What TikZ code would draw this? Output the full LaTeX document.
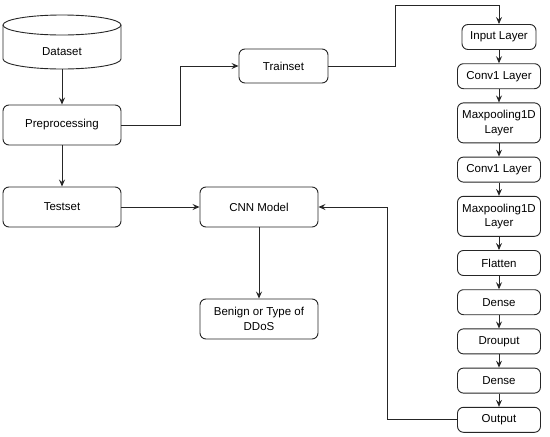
\documentclass[tikz,border=0pt]{standalone}
\usepackage{fontspec}
\setmainfont{Liberation Sans}
\usetikzlibrary{positioning,arrows.meta}
\tikzset{
  block/.style = {rectangle, rounded corners=6pt, draw=black!85, line width=0.9pt,
                  fill=white, minimum width=118pt, minimum height=40pt,
                  align=center, inner sep=2pt, font=\fontsize{11.5}{14.5}\selectfont},
  layer/.style = {block, minimum width=83pt, minimum height=25pt},
  tall/.style  = {layer, minimum height=40pt},
  store/.style = {rectangle, minimum width=118pt, minimum height=34pt,
                  align=center, font=\fontsize{11.5}{14.5}\selectfont},
  edge/.style  = {line width=0.9pt, draw=black!85},
  arr/.style   = {edge, -{Stealth[length=7pt,width=6pt,inset=2.5pt]}},
}

\begin{document}
\begin{tikzpicture}[x=1pt,y=1pt]
  \useasboundingbox (0,0) rectangle (550,-437);

  % data flow on the left
  \node[store] (data) at (62,-52) {Dataset};
  \draw[edge] (3,-25) -- (3,-59) arc[start angle=180,end angle=360,x radius=59,y radius=10]
              -- (121,-25);
  \draw[edge] (62,-25) ellipse[x radius=59,y radius=10];
  \node[block] (prep)   at (62,-125)  {Preprocessing};
  \node[block] (test)   at (62,-207)  {Testset};
  \node[block, minimum width=89pt, minimum height=34pt] (train) at (283.5,-66) {Trainset};
  \node[block] (cnn)    at (259,-207) {CNN Model};
  \node[block] (result) at (259,-319) {Benign or Type of\\DDoS};

  % layers of the network
  \begin{scope}[node distance=13.3pt]
    \node[layer, minimum width=74pt] (inp) at (499,-37) {Input Layer};
    \node[layer, below=of inp]    (conv1)  {Conv1 Layer};
    \node[tall,  below=of conv1]  (pool1)  {Maxpooling1D\\Layer};
    \node[layer, below=of pool1]  (conv2)  {Conv1 Layer};
    \node[tall,  below=of conv2]  (pool2)  {Maxpooling1D\\Layer};
    \node[layer, below=of pool2]  (flat)   {Flatten};
    \node[layer, below=of flat]   (dense1) {Dense};
    \node[layer, below=of dense1] (drop)   {Drouput};
    \node[layer, below=of drop]   (dense2) {Dense};
    \node[layer, below=of dense2] (out)    {Output};
  \end{scope}

  \coordinate (split) at (180,-125);
  \coordinate (top)   at (395,-5);
  \coordinate (back)  at (387,-207);

  \draw[arr] (data) -- (prep);
  \draw[arr] (prep) -- (test);
  \draw[arr] (prep.east) -- (split) |- (train.west);
  \draw[arr] (train.east) -| (top) -| (inp.north);
  \draw[arr] (test) -- (cnn);
  \draw[arr] (cnn) -- (result);
  \draw[arr] (out.west) -| (back) -- (cnn.east);
  \foreach \a/\b in {inp/conv1, conv1/pool1, pool1/conv2, conv2/pool2, pool2/flat,
                     flat/dense1, dense1/drop, drop/dense2, dense2/out}
    \draw[arr] (\a) -- (\b);
\end{tikzpicture}
\end{document}
